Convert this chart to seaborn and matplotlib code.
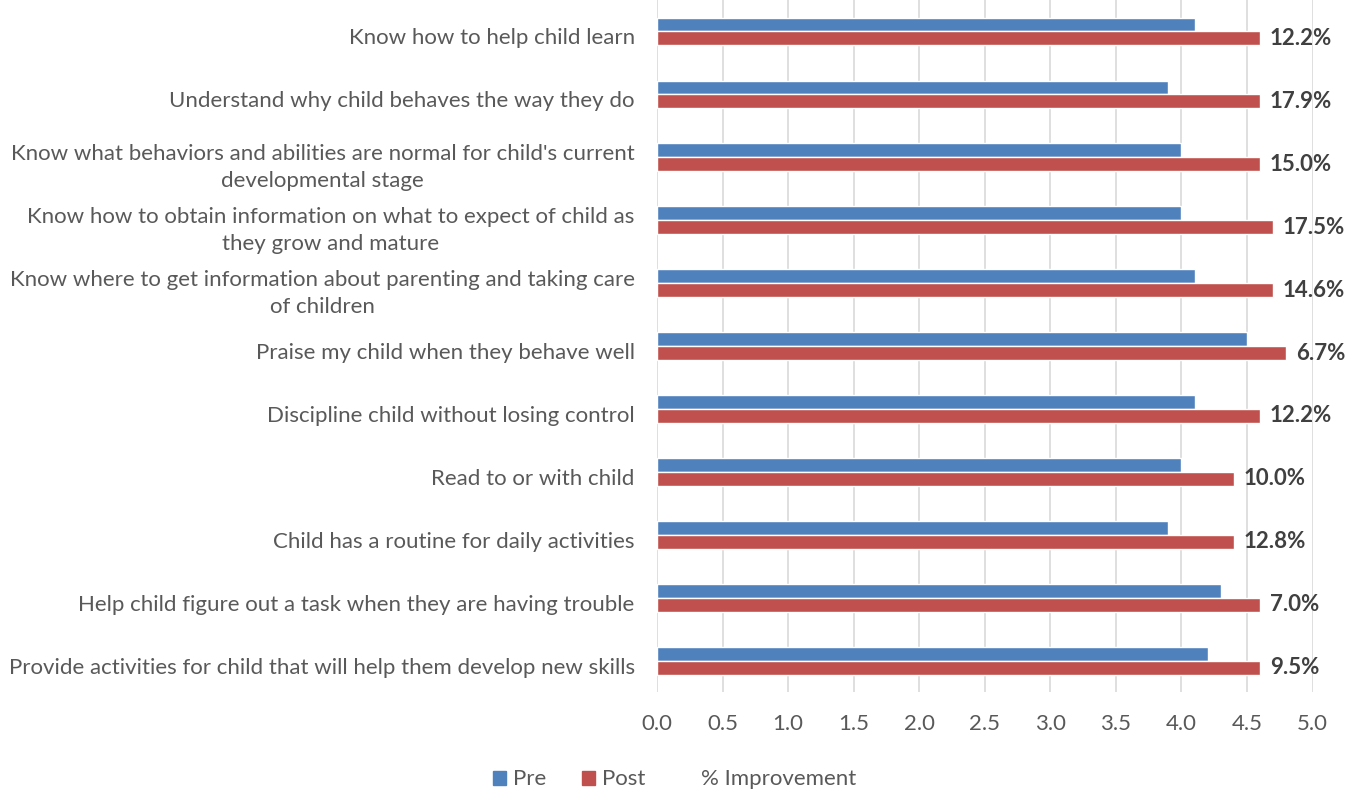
import matplotlib
matplotlib.use("Agg")
import matplotlib.pyplot as plt
import matplotlib.transforms as mtransforms
import seaborn as sns
import pandas as pd
from matplotlib.patches import Patch

categories = [
    "Know how to help child learn",
    "Understand why child behaves the way they do",
    "Know what behaviors and abilities are normal for child's current\ndevelopmental stage",
    "Know how to obtain information on what to expect of child as\nthey grow and mature",
    "Know where to get information about parenting and taking care\nof children",
    "Praise my child when they behave well",
    "Discipline child without losing control",
    "Read to or with child",
    "Child has a routine for daily activities",
    "Help child figure out a task when they are having trouble",
    "Provide activities for child that will help them develop new skills",
]
pre = [4.1, 3.9, 4.0, 4.0, 4.1, 4.5, 4.1, 4.0, 3.9, 4.3, 4.2]
post = [4.6, 4.6, 4.6, 4.7, 4.7, 4.8, 4.6, 4.4, 4.4, 4.6, 4.6]
improvement = ["12.2%", "17.9%", "15.0%", "17.5%", "14.6%", "6.7%",
               "12.2%", "10.0%", "12.8%", "7.0%", "9.5%"]
x_ticks = [0.0, 0.5, 1.0, 1.5, 2.0, 2.5, 3.0, 3.5, 4.0, 4.5, 5.0]

df = pd.DataFrame({
    "item": categories * 2,
    "score": pre + post,
    "series": ["Pre"] * len(categories) + ["Post"] * len(categories),
})

sns.set_theme(style="white")
plt.rcParams["font.family"] = ["Lato", "DejaVu Sans"]

BLUE = "#4F81BD"
RED = "#C0504D"
TXT = "#595959"
FS = 16

fig = plt.figure(figsize=(13.49, 7.92), dpi=100)
ax = fig.add_axes([0.487, 0.126, 0.486, 0.874])

sns.barplot(data=df, y="item", x="score", hue="series", orient="h",
            palette={"Pre": BLUE, "Post": RED}, width=0.44,
            order=categories, hue_order=["Pre", "Post"],
            ax=ax, legend=False, errorbar=None, saturation=1)

ax.set_xlim(0, 5)
ax.set_ylim(len(categories) - 0.5, -0.5)
ax.set_xticks(x_ticks)
ax.set_xticklabels([f"{t:.1f}" for t in x_ticks], fontsize=FS, color=TXT)
ax.tick_params(axis="x", length=0, pad=16)
ax.tick_params(axis="y", length=0, pad=16)
shift = mtransforms.ScaledTranslation(0, -5 / 100, fig.dpi_scale_trans)
for lbl in ax.get_yticklabels():
    lbl.set_fontsize(FS)
    lbl.set_color(TXT)
    lbl.set_multialignment("center")
    lbl.set_linespacing(1.4)
    lbl.set_transform(lbl.get_transform() + shift)
ax.set_xlabel("")
ax.set_ylabel("")
ax.grid(axis="x", color="#D9D9D9", linewidth=1.2)
ax.set_axisbelow(True)
for s in ax.spines.values():
    s.set_visible(False)

post_container = ax.containers[1]
for rect, lab in zip(post_container, improvement):
    y = rect.get_y() + rect.get_height() / 2
    ax.annotate(lab, xy=(rect.get_width(), y), xytext=(7, 0),
                textcoords="offset points", ha="left", va="center",
                fontsize=FS, fontweight="bold", color="#404040")

handles = [Patch(color=BLUE, label="Pre"), Patch(color=RED, label="Post"),
           Patch(color="none", label="% Improvement")]
fig.legend(handles=handles, loc="lower center", bbox_to_anchor=(0.5, -0.022),
           ncol=3, frameon=False, fontsize=FS, handlelength=0.6,
           handleheight=0.6, handletextpad=0.3, columnspacing=1.6,
           labelcolor=TXT)

fig.savefig("out.png", dpi=100)
